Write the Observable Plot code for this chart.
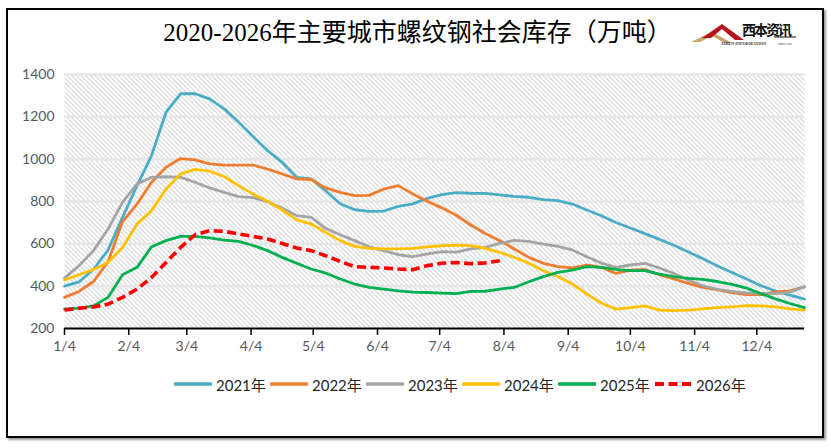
<!DOCTYPE html>
<html><head><meta charset="utf-8">
<script src="https://cdn.jsdelivr.net/npm/d3@7"></script>
<script src="https://cdn.jsdelivr.net/npm/@observablehq/plot@0.6"></script>
<style>
html,body{margin:0;padding:0;background:#fff;}
#wrap{position:relative;width:831px;height:448px;overflow:hidden;font-family:Lato,"Noto Sans","Noto Sans CJK SC",sans-serif;}
#frame{position:absolute;left:6px;top:8px;width:814px;height:426px;border:2px solid #000;box-shadow:2px 2px 2px #9a9a9a;background:#fff;}
#title{position:absolute;left:2px;top:17px;width:831px;text-align:center;font-family:"Liberation Serif","Noto Sans CJK SC",serif;font-size:25px;line-height:32px;color:#000;}
#logo{position:absolute;left:688px;top:17px;}
#chart{position:absolute;left:0;top:0;}
#legend{position:absolute;left:174px;top:374px;display:flex;font-family:Lato,"Noto Sans CJK SC",sans-serif;font-size:15px;color:#262626;}
.item{display:flex;align-items:center;width:96px;height:20px;}
.item svg{margin-right:4px;}
</style>
</head><body>
<div id="wrap">
  <div id="frame"></div>
  <svg width="0" height="0" style="position:absolute">
    <defs>
      <pattern id="hatch" patternUnits="userSpaceOnUse" width="3.3" height="10" patternTransform="rotate(-45)">
        <line x1="0.5" y1="0" x2="0.5" y2="10" stroke="#d3d3d3" stroke-width="1"/>
      </pattern>
    </defs>
  </svg>
  <div id="title">2020-2026年主要城市螺纹钢社会库存（万吨）</div>
  <svg id="logo" width="112" height="32" viewBox="0 0 112 32">
    <polygon points="3,25 24,15 44,26 37,26 24,19 12,25" fill="#c9a46a"/>
    <polygon points="14,21 34,7 56,23 47,23 34,12 23,21" fill="#b8141c"/>
    <text x="54" y="18" font-family="Noto Sans CJK SC" font-weight="bold" font-size="14" fill="#111" textLength="50">西本资讯</text>
    <line x1="86" y1="20" x2="108" y2="20" stroke="#111" stroke-width="1"/>
    <text x="33" y="28" font-family="Liberation Serif" font-size="4.2" font-weight="bold" fill="#333">XIBEN INFORMATION</text>
    <text x="90" y="28" font-family="Liberation Sans" font-size="3" fill="#555">xiben.com</text>
  </svg>
  <div id="chart"></div>
  <div id="legend"></div>
</div>
<script>
// ---- data (weekly, starting 1/4) ----
const seriesNames = ["2021年","2022年","2023年","2024年","2025年","2026年"];
const seriesColors = ["#4bacc6","#ed7d31","#a5a5a5","#ffc000","#00b050","#ff0000"];
const tickLabels = ["1/4","2/4","3/4","4/4","5/4","6/4","7/4","8/4","9/4","10/4","11/4","12/4"];
const yTicks = [200,400,600,800,1000,1200,1400];

const y2021 = [400,420,480,570,725,875,1017,1222,1309,1309,1285,1238,1175,1107,1040,985,914,907,851,789,761,753,755,777,789,815,832,842,839,838,831,824,820,809,804,788,760,733,701,675,648,621,593,561,530,495,465,434,402,377,358,339];
const y2022 = [347,375,422,515,705,788,891,962,1003,997,978,972,972,972,953,930,907,904,864,843,828,829,859,875,836,801,770,735,689,649,615,576,536,508,492,486,500,489,460,476,479,454,434,413,394,382,369,360,360,373,378,397];
const y2023 = [438,497,568,670,796,883,914,917,914,891,864,843,823,818,799,769,733,725,673,643,615,586,568,549,539,552,563,561,576,583,602,616,612,599,588,571,539,509,489,500,508,486,460,429,402,385,375,368,366,365,372,397];
const y2024 = [429,454,479,512,583,694,757,859,930,952,943,918,875,835,801,760,713,694,654,615,588,579,576,576,579,586,591,594,591,579,560,536,508,473,446,410,363,320,292,299,307,287,284,287,293,299,302,308,307,302,293,287];
const y2025 = [292,296,307,347,454,489,586,615,635,635,628,618,612,592,568,536,508,481,462,434,410,394,386,378,372,370,367,365,375,376,386,394,421,445,465,476,492,489,479,473,473,457,445,437,432,422,408,391,365,340,318,299];
const y2026 = [287,296,302,315,347,386,441,512,583,643,662,659,647,635,623,602,580,568,544,517,492,489,486,481,478,497,508,512,506,510,520];

const seriesValues = [y2021,y2022,y2023,y2024,y2025,y2026];
// category axis: one point per week from Jan 4
const weekDate = i => new Date(Date.UTC(2021, 0, 4 + 7 * i));
const monthTicks = tickLabels.map((_, m) => new Date(Date.UTC(2021, m, 4)));

const rows = seriesValues.map((vals, s) => vals.map((v, i) => ({x: weekDate(i), y: v, s: seriesNames[s]})));

const lineMarks = rows.map((data, s) => Plot.line(data, {
  x: "x", y: "y",
  stroke: seriesColors[s],
  strokeWidth: s === 5 ? 3.6 : 2.8,
  strokeDasharray: s === 5 ? "9,4.5" : null,
  strokeLinejoin: "round",
  strokeLinecap: s === 5 ? "butt" : "round"
}));

const chart = Plot.plot({
  width: 831,
  height: 365,
  marginLeft: 64,
  marginRight: 27,
  marginTop: 74,
  marginBottom: 37,
  style: {background: "transparent", fontFamily: "Lato, 'Noto Sans', sans-serif", fontSize: "14px"},
  x: {type: "utc", domain: [weekDate(0), weekDate(51)]},
  y: {domain: [200, 1400]},
  marks: [
    Plot.frame({fill: "url(#hatch)", stroke: null}),
    Plot.ruleY(yTicks.filter(d => d > 200), {stroke: "#e6e6e6", strokeWidth: 2.6}),
    ...lineMarks,
    Plot.ruleY([200], {stroke: "#000", strokeWidth: 2}),
    Plot.axisX({ticks: monthTicks, tickFormat: d => tickLabels[d.getUTCMonth()], tickSize: 7, tickPadding: 6, stroke: "#000", strokeWidth: 1.5, fill: "#595959", label: null, fontSize: 14}),
    Plot.axisY({ticks: yTicks, tickFormat: d => String(d), tickSize: 0, tickPadding: 10, fill: "#595959", label: null, fontSize: 14})
  ]
});
document.getElementById("chart").appendChild(chart);

// legend
const legend = document.getElementById("legend");
seriesNames.forEach((name, s) => {
  const item = document.createElement("div");
  item.className = "item";
  const dash = s === 5 ? 'stroke-dasharray="9,4.5"' : '';
  item.innerHTML = `<svg width="38" height="8"><line x1="1" y1="4" x2="37" y2="4" stroke="${seriesColors[s]}" stroke-width="${s===5?4:3.5}" stroke-linecap="${s===5?'butt':'round'}" ${dash}/></svg><span>${name}</span>`;
  legend.appendChild(item);
});
</script>
</body></html>
